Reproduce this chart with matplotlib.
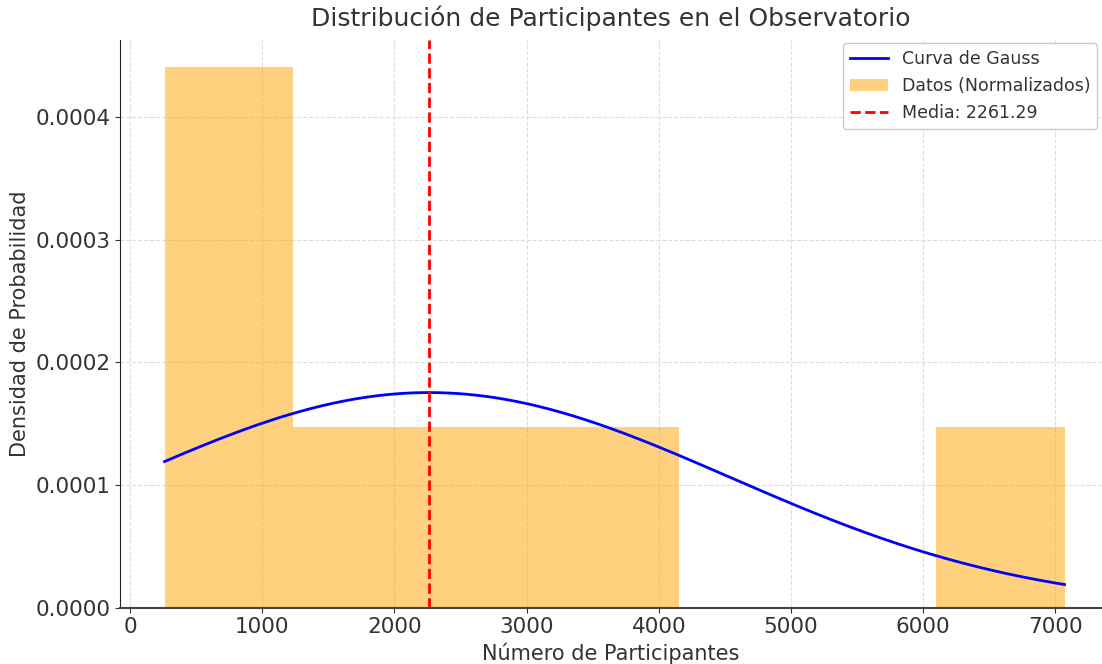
import numpy as np
import matplotlib
matplotlib.use("Agg")
import matplotlib.pyplot as plt

# histogram (7 bins, density normalised)
bin_edges = [260, 1233, 2206, 3179, 4152, 5124, 6097, 7070]
densities = [0.000441, 0.000147, 0.000147, 0.000147, 0.0, 0.0, 0.000147]

media = 2261.29
desv = 2275.0

x = np.linspace(bin_edges[0], bin_edges[-1], 400)
gauss = np.exp(-0.5 * ((x - media) / desv) ** 2) / (desv * np.sqrt(2 * np.pi))

fig = plt.figure(figsize=(11.02, 6.64), dpi=100)
ax = fig.add_axes([0.109, 0.085, 0.89, 0.855])

l1, = ax.plot(x, gauss, color='blue', lw=2, label='Curva de Gauss', zorder=3)
widths = np.diff(bin_edges)
b1 = ax.bar(bin_edges[:-1], densities, width=widths, align='edge', color='orange',
            alpha=0.5, label='Datos (Normalizados)', zorder=2)
l2 = ax.axvline(media, color='red', ls='--', lw=2, label=f'Media: {media:.2f}', zorder=4)

ax.set_title('Distribución de Participantes en el Observatorio', fontsize=18, color='#333333', pad=10)
ax.set_xlabel('Número de Participantes', fontsize=15, color='#333333')
ax.set_ylabel('Densidad de Probabilidad', fontsize=15, color='#333333')
ax.tick_params(labelsize=15.5, colors='#333333')
ax.set_yticks([0, 0.0001, 0.0002, 0.0003, 0.0004])
ax.set_xlim(-76, 7345)
ax.grid(True, ls='--', color='#dddddd', lw=0.8, zorder=0)
ax.set_axisbelow(True)
for s in ['top', 'right']:
    ax.spines[s].set_visible(False)
ax.spines['left'].set_color('#222222')
ax.spines['bottom'].set_color('#444444')
ax.spines['bottom'].set_linewidth(1.5)

leg = ax.legend([l1, b1, l2], [l1.get_label(), b1.get_label(), l2.get_label()],
                loc='upper right', fontsize=12.5, framealpha=1, borderaxespad=0.2,
                handlelength=2.2)
for t in leg.get_texts():
    t.set_color('#333333')

fig.savefig('out.png')
